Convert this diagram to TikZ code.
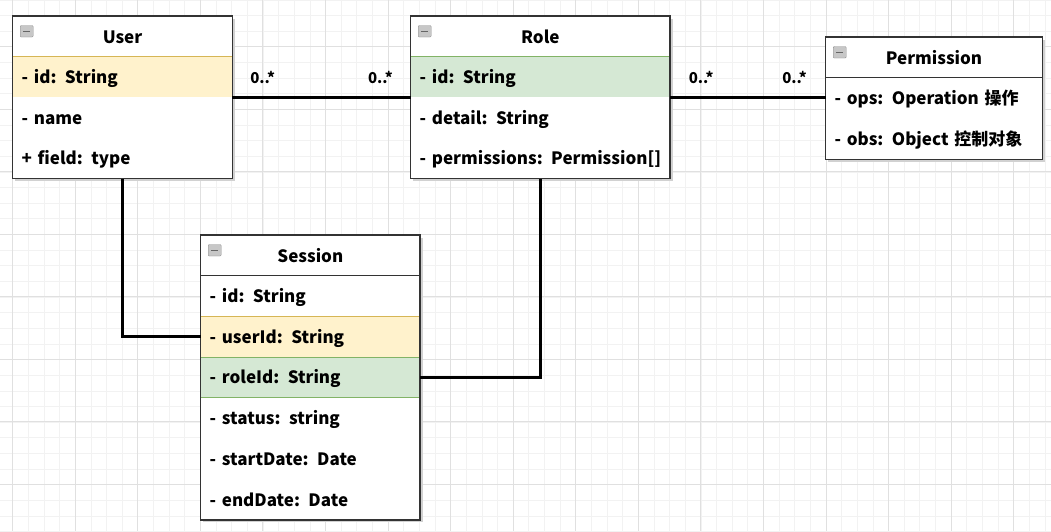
\documentclass[tikz,border=0pt]{standalone}
\usepackage{fontspec}
\setmainfont{Noto Sans CJK SC}
\usetikzlibrary{positioning}

\definecolor{gridminor}{HTML}{F2F2F2}
\definecolor{gridmajor}{HTML}{E0E0E0}
\definecolor{keyfill}{HTML}{FFF2CC}
\definecolor{keyline}{HTML}{D6B656}
\definecolor{reffill}{HTML}{D5E8D4}
\definecolor{refline}{HTML}{82B366}
\definecolor{boxline}{HTML}{333333}

\pgfdeclarelayer{grid}
\pgfdeclarelayer{shade}
\pgfsetlayers{grid,shade,main}

% small collapse icon in the class header
\newcommand{\minusicon}[1]{%
  \begin{scope}[shift={(#1.north west)}]
    \draw[fill=black!22, draw=black!45, rounded corners=1pt] (7.5,9.5) rectangle (20.5,21);
    \draw[line width=1.5pt, black!60] (10.5,15.3) -- (17.5,15.3);
  \end{scope}}

% frame and shadow round a class box
\newcommand{\classframe}[2]{%
  \begin{pgfonlayer}{shade}
    \fill[black!18] ([shift={(2.5,2.5)}]#1.north west) rectangle ([shift={(2.5,2.5)}]#2.south east);
  \end{pgfonlayer}
  \draw[boxline, line width=1.2pt] (#1.north west) rectangle (#2.south east);
  \minusicon{#1}}

\begin{document}
\begin{tikzpicture}[x=1pt,y=-1pt,
    font=\fontsize{17}{20}\selectfont\bfseries,
    head/.style={draw=boxline, line width=1.2pt, fill=white, anchor=north west,
                 minimum height=40.7pt, inner sep=0pt, outer sep=0pt,
                 text height=15pt, text depth=1pt},
    attr/.style={anchor=north west, fill=white, text width=#1, align=left,
                 minimum height=40.7pt, inner xsep=9pt, inner ysep=0pt, outer sep=0pt,
                 text height=15pt, text depth=2pt},
    keyrow/.style={fill=keyfill, draw=keyline, line width=1pt},
    refrow/.style={fill=reffill, draw=refline, line width=1pt},
    link/.style={line width=2.6pt, black},
    mult/.style={font=\fontsize{15}{18}\selectfont\bfseries, above=9pt}]

  \useasboundingbox (0,0) rectangle (1051,531);

  % background grid
  \begin{pgfonlayer}{grid}
    \fill[white] (0,0) rectangle (1051,531);
    \foreach \i in {0,...,68}
      \draw[gridminor, line width=0.8pt] (-2.9+\i*15.64,0) -- ++(0,531);
    \foreach \j in {0,...,34}
      \draw[gridminor, line width=0.8pt] (0,-0.1+\j*15.64) -- ++(1051,0);
    \foreach \i in {0,...,16}
      \draw[gridmajor, line width=0.9pt] (12.7+\i*62.56,0) -- ++(0,531);
    \foreach \j in {0,...,7}
      \draw[gridmajor, line width=0.9pt] (0,46.8+\j*62.5) -- ++(1051,0);
  \end{pgfonlayer}

  % User
  \node[head, minimum width=219.6pt] (user) at (12.7,16) {User};
  \node[attr=201.6pt, keyrow] (userid)    at (user.south west)     {- id: String};
  \node[attr=201.6pt]         (username)  at (userid.south west)   {- name};
  \node[attr=201.6pt]         (userfield) at (username.south west) {+ field: type};
  \classframe{user}{userfield}

  % Role (last row is cut at the box edge)
  \node[head, minimum width=259.3pt] (role) at (410.7,16) {Role};
  \node[attr=241.3pt, refrow] (roleid)     at (role.south west)       {- id: String};
  \node[attr=241.3pt]         (roledetail) at (roleid.south west)     {- detail: String};
  \node[attr=241.3pt, path picture={
      \node[anchor=base west, inner sep=0pt] at ([shift={(9,6.5)}]path picture bounding box.west)
        {\mbox{- permissions: Permission[]}};}] (roleperm) at (roledetail.south west) {};
  \classframe{role}{roleperm}

  % Permission
  \node[head, minimum width=216.6pt] (perm) at (825.7,37) {Permission};
  \node[attr=198.6pt] (permops) at (perm.south west)    {- ops: Operation 操作};
  \node[attr=198.6pt] (permobs) at (permops.south west) {- obs: Object 控制对象};
  \classframe{perm}{permobs}

  % Session
  \node[head, minimum width=219.3pt] (session) at (200.7,235) {Session};
  \node[attr=201.3pt]         (sessid)     at (session.south west)    {- id: String};
  \node[attr=201.3pt, keyrow] (sessuser)   at (sessid.south west)     {- userId: String};
  \node[attr=201.3pt, refrow] (sessrole)   at (sessuser.south west)   {- roleId: String};
  \node[attr=201.3pt]         (sessstatus) at (sessrole.south west)   {- status: string};
  \node[attr=201.3pt]         (sessstart)  at (sessstatus.south west) {- startDate: Date};
  \node[attr=201.3pt]         (sessend)    at (sessstart.south west)  {- endDate: Date};
  \classframe{session}{sessend}

  % associations
  \draw[link] (userid.south east) -- node[mult, pos=0.17] {0..*}
                                     node[mult, pos=0.83] {0..*} (roleid.south west);
  \draw[link] (roleid.south east) -- node[mult, pos=0.2] {0..*}
                                     node[mult, pos=0.8] {0..*} (roleid.south east -| perm.west);
  \draw[link] (userfield.south) |- (sessuser.west);
  \draw[link] (roleperm.south) |- (sessrole.east);
\end{tikzpicture}
\end{document}
